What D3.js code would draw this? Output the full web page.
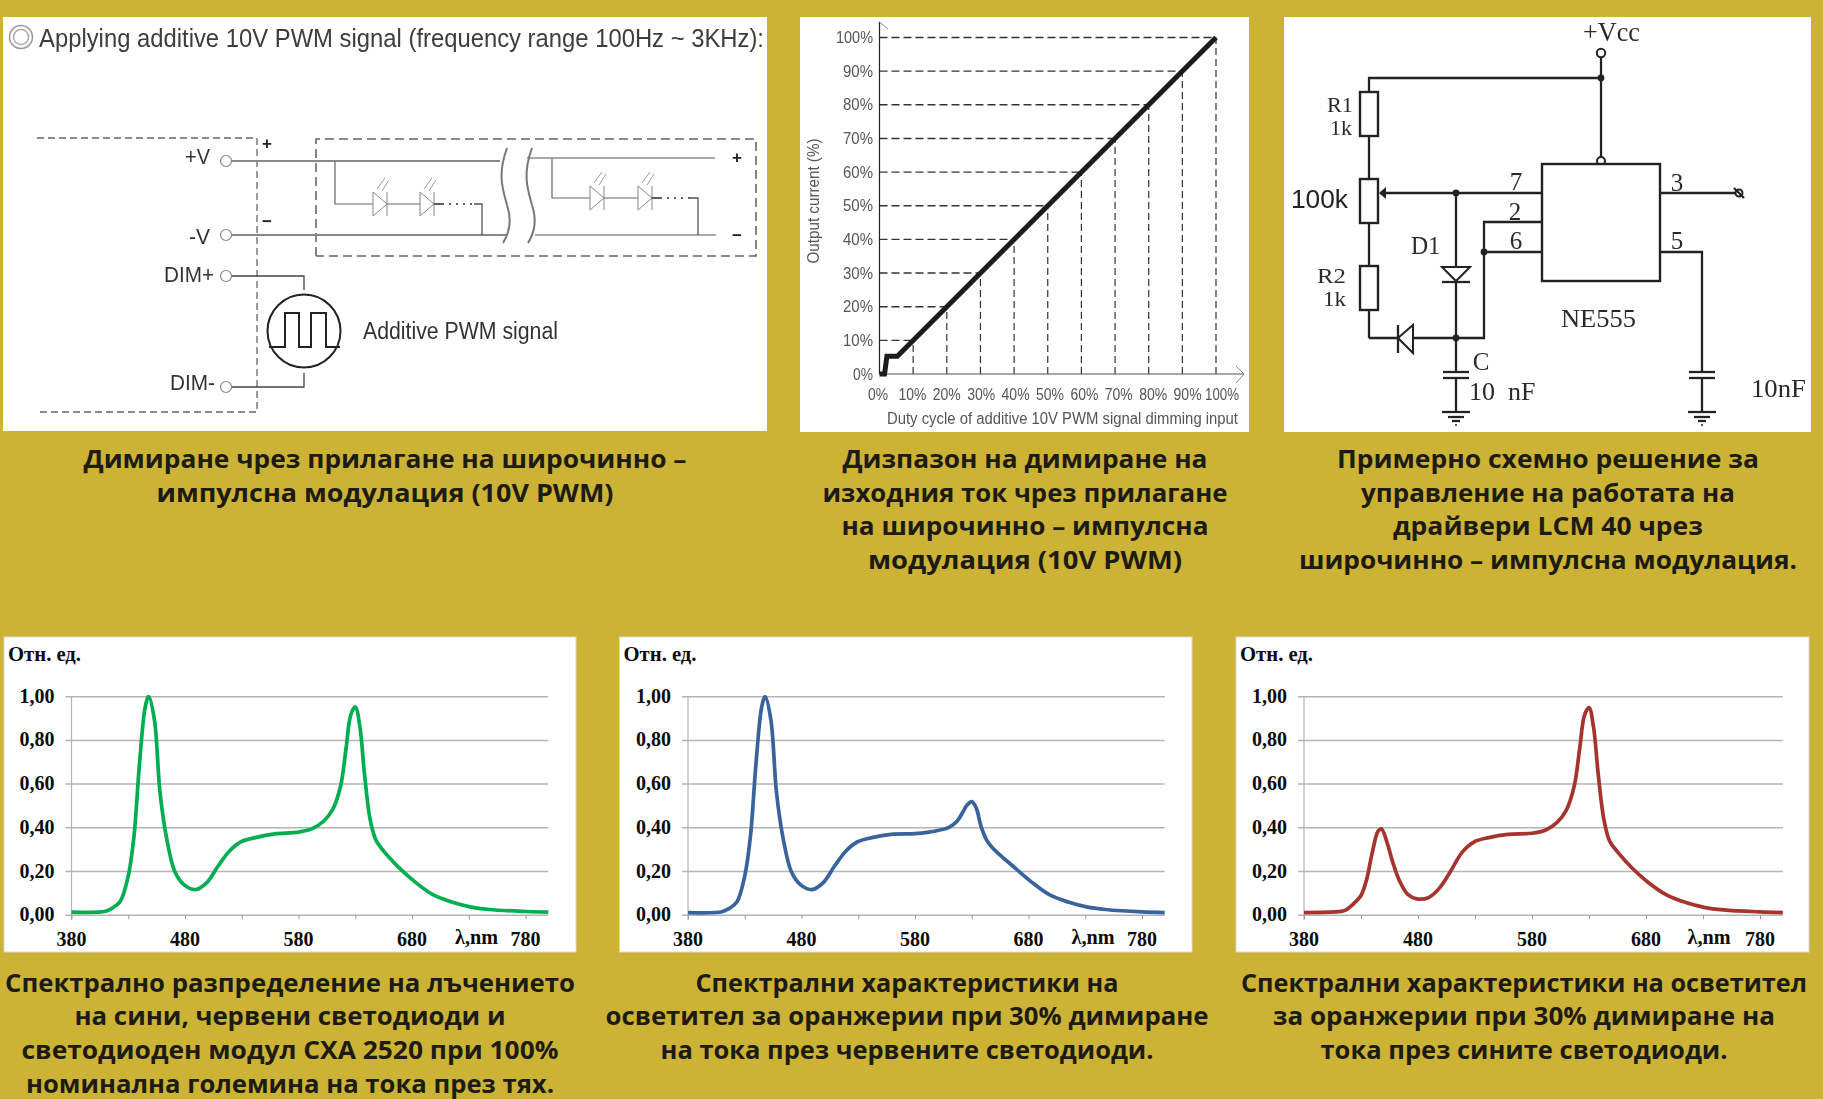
<!DOCTYPE html>
<html>
<head>
<meta charset="utf-8">
<script src="https://cdn.jsdelivr.net/npm/d3@7"></script>
<style>
  html, body { margin: 0; padding: 0; background: #ccb235; }
  svg { display: block; }
</style>
</head>
<body>
<svg id="chart"></svg>
<script>
// spectra, nm against relative units
const wavelengths = [380,410,416,423,430,435,440,445,448,453,458,464,471,479,489,499,509,519,529,542,559,580,592,602,610,617,622,626,630,634,638,643,648,655,668,682,698,715,731,748,780,800];
const spectrumFull = [.014,.018,.033,.064,.18,.36,.70,.955,1,.895,.56,.346,.20,.14,.117,.148,.224,.293,.335,.355,.372,.38,.396,.43,.483,.59,.77,.917,.953,.864,.65,.44,.346,.293,.22,.155,.095,.06,.038,.026,.017,.014];
const spectrumRedDim = [.012,.016,.03,.06,.18,.36,.70,.955,1,.895,.56,.346,.20,.14,.117,.148,.224,.293,.335,.355,.37,.373,.38,.39,.402,.43,.47,.505,.52,.49,.41,.345,.31,.275,.217,.155,.095,.06,.038,.026,.015,.012];
const spectrumBlueDim = [.012,.016,.022,.05,.09,.165,.29,.385,.395,.33,.24,.155,.095,.075,.08,.125,.205,.29,.335,.355,.37,.375,.39,.425,.48,.59,.77,.915,.95,.86,.65,.44,.34,.29,.215,.15,.093,.058,.036,.024,.015,.012];
const spectrumTicksMajor = [380,480,580,680,780];
const spectrumTicksMinor = [380,430,480,530,580,630,680,730,780];
const spectrumTicksY = [0,.2,.4,.6,.8,1];

// dimming curve, duty cycle % against output current %
const dutyValues = [0,1.5,2.2,5.3,100];
const currentValues = [0,0,5.3,5.3,100];
const dimmingTicks = [0,10,20,30,40,50,60,70,80,90,100];

const captionDimming = ["Димиране чрез прилагане на широчинно –", "импулсна модулация (10V PWM)"];
const captionRange = ["Дизпазон на димиране на", "изходния ток чрез прилагане", "на широчинно – импулсна", "модулация (10V PWM)"];
const captionCircuit = ["Примерно схемно решение за", "управление на работата на", "драйвери LCM 40 чрез", "широчинно – импулсна модулация."];
const captionFull = ["Спектрално разпределение на лъчението", "на сини, червени светодиоди и", "светодиоден модул CXA 2520 при 100%", "номинална големина на тока през тях."];
const captionRed = ["Спектрални характеристики на", "осветител за оранжерии при 30% димиране", "на тока през червените светодиоди."];
const captionBlue = ["Спектрални характеристики на осветител", "за оранжерии при 30% димиране на", "тока през сините светодиоди."];

const W = 1823, H = 1099;
const SANS = "'Liberation Sans', Arial, sans-serif";
const SERIF = "'Liberation Serif', 'Times New Roman', serif";
const CAPTION = "'Open Sans', 'Noto Sans', sans-serif";

const svg = d3.select("#chart").attr("width", W).attr("height", H);
svg.append("rect").attr("width", W).attr("height", H).attr("fill", "#ccb235");

const defs = svg.append("defs");
defs.append("filter").attr("id", "soft")
  .append("feGaussianBlur").attr("stdDeviation", 0.6);

const pathGen = d3.line();

const wire = (g, pts, color, w, dash) => {
  return g.append("path")
    .attr("d", pathGen(pts))
    .attr("fill", "none")
    .attr("stroke", color)
    .attr("stroke-width", w)
    .attr("stroke-dasharray", dash || null);
};

const label = (g, txt, x, y, opt) => {
  const o = opt || {};
  const t = g.append("text")
    .attr("x", x).attr("y", y)
    .attr("dominant-baseline", "central")
    .attr("text-anchor", o.anchor || "start")
    .attr("font-family", o.family || SANS)
    .attr("font-size", o.size || 16)
    .attr("font-weight", o.weight || "normal")
    .attr("fill", o.fill || "#333")
    .text(txt);
  if (o.len) t.attr("textLength", o.len).attr("lengthAdjust", "spacingAndGlyphs");
  return t;
};

const panel = (x0, y0, x1, y1) => svg.append("rect")
  .attr("x", x0).attr("y", y0).attr("width", x1 - x0).attr("height", y1 - y0)
  .attr("fill", "#fff");

// captions, widths fitted per line to the reference
const caption = (lines, cx, top, widths) => {
  lines.forEach((line, i) => {
    label(svg, line, cx, top + i * 33.7, { family: CAPTION, size: 25.5, weight: 700, anchor: "middle", fill: "#1c1c14", len: widths[i] });
  });
};
caption(captionDimming, 385, 458, [603, 457]);
caption(captionRange, 1025, 458, [365, 405, 367, 314]);
caption(captionCircuit, 1548, 458, [422, 374, 310, 498]);
caption(captionFull, 290, 981.5, [570, 431, 537, 528]);
caption(captionRed, 907, 981.5, [423, 603, 493]);
caption(captionBlue, 1524, 981.5, [566, 502, 407]);

// ---- PWM wiring diagram ----
panel(3, 17, 767, 431);
const a = svg.append("g").attr("filter", "url(#soft)");

a.append("circle").attr("cx", 21).attr("cy", 37).attr("r", 11.5).attr("fill", "none").attr("stroke", "#999").attr("stroke-width", 1.5);
a.append("circle").attr("cx", 21).attr("cy", 37).attr("r", 7.5).attr("fill", "none").attr("stroke", "#aaa").attr("stroke-width", 1.5);
label(a, "Applying additive 10V PWM signal (frequency range 100Hz ~ 3KHz):", 39, 38, { size: 26, len: 725, fill: "#3c3c3c" });

wire(a, [[37,138],[257,138],[257,412],[37,412]], "#666", 1.3, "7,4");
wire(a, [[316,256],[316,139],[756,139],[756,256],[316,256]], "#666", 1.6, "9,5");
label(a, "+", 267, 143, { size: 17, anchor: "middle", weight: "bold", fill: "#222" });
label(a, "−", 267, 221, { size: 17, anchor: "middle", weight: "bold", fill: "#222" });
label(a, "+", 737, 157, { size: 17, anchor: "middle", weight: "bold", fill: "#222" });
label(a, "−", 737, 235, { size: 17, anchor: "middle", weight: "bold", fill: "#222" });

label(a, "+V", 210, 156, { size: 22, anchor: "end", len: 25 });
label(a, "-V", 210, 236, { size: 22, anchor: "end", len: 21 });
label(a, "DIM+", 214, 274, { size: 22, anchor: "end", len: 50 });
label(a, "DIM-", 215, 382, { size: 22, anchor: "end", len: 45 });
label(a, "Additive PWM signal", 363, 331, { size: 23, len: 195 });

[161, 235, 276, 387].forEach(cy => {
  a.append("circle").attr("cx", 226).attr("cy", cy).attr("r", 5.5).attr("fill", "#fff").attr("stroke", "#888").attr("stroke-width", 1.2);
});
wire(a, [[232,161],[500,161]], "#888", 2);
wire(a, [[232,235],[507,235]], "#888", 2);
wire(a, [[527,158],[715,158]], "#aaa", 2);
wire(a, [[535,235],[716,235]], "#aaa", 2);

// cable break marks
[0, 25].forEach(dx => {
  a.append("path")
    .attr("d", `M${507 + dx},148 C${497 + dx},175 ${503 + dx},190 ${507 + dx},205 C${512 + dx},220 ${510 + dx},232 ${503 + dx},243`)
    .attr("fill", "none").attr("stroke", "#777").attr("stroke-width", 2);
});

const ledString = (startX, busY, rowY, x1, x2, endX) => {
  wire(a, [[startX,busY],[startX,rowY],[x1,rowY]], "#666", 1.2);
  [x1, x2].forEach(x => {
    a.append("path").attr("d", pathGen([[x,rowY - 12],[x + 14,rowY],[x,rowY + 12]]) + "Z")
      .attr("fill", "#fff").attr("stroke", "#888").attr("stroke-width", 1);
    wire(a, [[x + 14,rowY - 12],[x + 14,rowY + 12]], "#888", 1);
    wire(a, [[x + 4,rowY - 15],[x + 12,rowY - 26]], "#999", 1);
    wire(a, [[x + 9,rowY - 13],[x + 16,rowY - 24]], "#999", 1);
  });
  wire(a, [[x1 + 14,rowY],[x2,rowY]], "#666", 1.2);
  wire(a, [[x2 + 14,rowY],[x2 + 22,rowY]], "#333", 1.6);
  wire(a, [[x2 + 22,rowY],[endX - 8,rowY]], "#333", 1.6, "2,5");
  wire(a, [[endX - 8,rowY],[endX,rowY],[endX,235]], "#555", 1.3);
};
ledString(335, 161, 204, 373, 420, 482);
ledString(552, 158, 198, 590, 638, 698);

wire(a, [[232,276],[304,276],[304,290]], "#444", 1.3);
wire(a, [[232,387],[304,387],[304,373]], "#444", 1.3);
a.append("circle").attr("cx", 304).attr("cy", 331).attr("r", 36.5).attr("fill", "none").attr("stroke", "#222").attr("stroke-width", 2);
wire(a, [[269,347],[285,347],[285,313],[299,313],[299,347],[311,347],[311,313],[326,313],[326,347],[340,347]], "#222", 2);

// ---- dimming range chart ----
panel(800, 17, 1249, 432);
const b = svg.append("g").attr("filter", "url(#soft)");

const xDim = d3.scaleLinear().domain([0, 100]).range([879.5, 1216]);
const yDim = d3.scaleLinear().domain([0, 100]).range([374, 37.5]);
const xDimLabel = d3.scaleLinear().domain([0, 100]).range([878, 1222]);

dimmingTicks.filter(d => d > 0).forEach(d => {
  wire(b, [[xDim(0), yDim(d)],[xDim(d), yDim(d)]], "#333", 1.4, "8,4");
  wire(b, [[xDim(d), yDim(0)],[xDim(d), yDim(d)]], "#333", 1.2, "7,4");
});
wire(b, [[xDim(0), yDim(0)],[xDim(0), 22]], "#222", 1.2);
wire(b, [[xDim(0), yDim(0)],[1244, yDim(0)]], "#555", 1.2);
wire(b, [[xDim(0), 22],[888, 29]], "#888", 1);
wire(b, [[1236, 366],[1244, 374],[1236, 383]], "#888", 1);

b.append("path")
  .datum(dutyValues.map((d, i) => [d, currentValues[i]]))
  .attr("fill", "none").attr("stroke", "#1a1a1a").attr("stroke-width", 5)
  .attr("d", d3.line().x(d => xDim(d[0])).y(d => yDim(d[1])));

dimmingTicks.forEach(d => {
  label(b, d + "%", 873, yDim(d) - 0.5, { size: 16.5, anchor: "end", len: d === 100 ? 37 : d === 0 ? 20 : 30, fill: "#555" });
  label(b, d + "%", xDimLabel(d), 394, { size: 16, anchor: "middle", len: d === 100 ? 34 : d === 0 ? 20 : 28, fill: "#555" });
});
label(b, "Duty cycle of additive 10V PWM signal dimming input", 887, 418, { size: 16, len: 351, fill: "#555" });
label(b, "Output current (%)", 0, 0, { size: 16, anchor: "middle", len: 125, fill: "#555" })
  .attr("transform", "translate(813,201) rotate(-90)");

// ---- NE555 circuit ----
panel(1284, 17, 1811, 432);
const c = svg.append("g").attr("filter", "url(#soft)");
const INK = "#222";
const cw = (pts, w) => wire(c, pts, INK, w || 2.3);
const dot = (x, y) => c.append("circle").attr("cx", x).attr("cy", y).attr("r", 3.4).attr("fill", INK);
const box = (x0, y0, x1, y1) => c.append("rect").attr("x", x0).attr("y", y0).attr("width", x1 - x0).attr("height", y1 - y0)
  .attr("fill", "#fff").attr("stroke", INK).attr("stroke-width", 2.4);

cw([[1369,338],[1369,78],[1601,78]]);
cw([[1601,57],[1601,157]]);
dot(1601, 78);
c.append("circle").attr("cx", 1601).attr("cy", 53).attr("r", 4.2).attr("fill", "#fff").attr("stroke", INK).attr("stroke-width", 2);
c.append("circle").attr("cx", 1601).attr("cy", 161).attr("r", 4).attr("fill", "#fff").attr("stroke", INK).attr("stroke-width", 2);

box(1360, 92, 1378, 136);
box(1360, 179, 1378, 223);
box(1360, 266, 1378, 310);
box(1542, 164, 1660, 281);

cw([[1380,193],[1542,193]]);
c.append("path").attr("d", pathGen([[1379,193],[1386,187],[1386,199]]) + "Z").attr("fill", INK);
dot(1456, 193);
cw([[1456,193],[1456,372]]);
cw([[1369,338],[1484,338],[1484,222],[1542,222]]);
cw([[1484,252],[1542,252]]);
dot(1484, 252);
dot(1456, 338);

c.append("path").attr("d", pathGen([[1442,267],[1470,267],[1456,281]]) + "Z").attr("fill", "#fff").attr("stroke", INK).attr("stroke-width", 2);
cw([[1442,282],[1470,282]]);
c.append("path").attr("d", pathGen([[1398,338],[1413,325],[1413,353]]) + "Z").attr("fill", "#fff").attr("stroke", INK).attr("stroke-width", 2);
cw([[1398,325],[1398,353]]);

cw([[1660,193],[1739,193]]);
c.append("circle").attr("cx", 1739).attr("cy", 193).attr("r", 3.5).attr("fill", "#fff").attr("stroke", INK).attr("stroke-width", 2);
cw([[1734,188],[1744,198]]);
cw([[1660,252],[1702,252],[1702,372]]);

const capGround = (x) => {
  cw([[x - 13,372],[x + 13,372]]);
  cw([[x - 13,378],[x + 13,378]]);
  cw([[x,378],[x,412]]);
  cw([[x - 14,412],[x + 14,412]]);
  cw([[x - 8,417],[x + 8,417]]);
  cw([[x - 4,421],[x + 4,421]]);
  dot(x, 425).attr("r", 1);
};
capGround(1456);
capGround(1702);

const sf = { family: SERIF, size: 25, fill: "#2a2a2a" };

label(c, "+Vcc", 1583, 32, { ...sf, size: 27, len: 57 });
label(c, "R1", 1353, 104, { ...sf, size: 22, anchor: "end", len: 26 });
label(c, "1k", 1352, 127, { ...sf, size: 22, anchor: "end", len: 22 });
label(c, "R2", 1346, 275, { ...sf, size: 22, anchor: "end", len: 29 });
label(c, "1k", 1346, 298, { ...sf, size: 22, anchor: "end", len: 23 });
label(c, "100k", 1348, 199, { size: 25, anchor: "end", len: 57, fill: "#222" });
label(c, "D1", 1411, 245, { ...sf, len: 29 });
label(c, "7", 1516, 181, { ...sf, anchor: "middle" });
label(c, "2", 1515, 211, { ...sf, anchor: "middle" });
label(c, "6", 1516, 240, { ...sf, anchor: "middle" });
label(c, "3", 1677, 182, { ...sf, anchor: "middle" });
label(c, "5", 1677, 240, { ...sf, anchor: "middle" });
label(c, "NE555", 1561, 318, { ...sf, len: 75 });
label(c, "C", 1481, 361, { ...sf, anchor: "middle" });
label(c, "10  nF", 1469, 391, { ...sf, size: 26 }).style("white-space", "pre");
label(c, "10nF", 1751, 388, { ...sf, size: 26, len: 55 });

// ---- spectrum charts ----
const spectrum = (boxL, boxR, x380, x780, values, color) => {
  panel(boxL, 637, boxR, 952).attr("stroke", "#d8d8d8").attr("stroke-width", 1);
  const g = svg.append("g");
  const x = d3.scaleLinear().domain([380, 780]).range([x380, x780]);
  const y = d3.scaleLinear().domain([0, 1]).range([915.2, 696.7]);
  const xEnd = x(800);

  spectrumTicksY.forEach(t => {
    wire(g, [[x380 - 6, y(t)],[xEnd, y(t)]], "#b4b4b4", 1.5);
  });
  wire(g, [[x380, y(1)],[x380, y(0) + 5]], "#b4b4b4", 1.2);

  const axisX = d3.axisBottom(x)
    .tickValues(spectrumTicksMinor)
    .tickSize(4)
    .tickFormat("");
  const gx = g.append("g").attr("transform", `translate(0,${y(0)})`).call(axisX);
  gx.select(".domain").remove();
  gx.selectAll("line").attr("stroke", "#999");

  const lab = { family: SERIF, size: 20, weight: "bold", fill: "#0c0c0c" };
  spectrumTicksY.forEach(t => {
    label(g, d3.format(".2f")(t).replace(".", ","), x380 - 17, y(t) - 1, { ...lab, anchor: "end" });
  });
  spectrumTicksMajor.forEach(t => {
    label(g, t, x(t), 938.5, { ...lab, anchor: "middle" });
  });
  label(g, "λ,nm", x380 + 405, 937, { ...lab, anchor: "middle", len: 43 });
  label(g, "Отн. ед.", boxL + 4, 654, { ...lab, size: 20, len: 73 });

  const line = d3.line()
    .x((d, i) => x(wavelengths[i]))
    .y(d => y(d))
    .curve(d3.curveCatmullRom.alpha(0.5));
  g.append("path")
    .datum(values)
    .attr("fill", "none")
    .attr("stroke", color)
    .attr("stroke-width", 3.7)
    .attr("stroke-linejoin", "round")
    .attr("d", line);
};

spectrum(4, 576, 71.5, 525.6, spectrumFull, "#00ad50");
spectrum(619.5, 1192, 688, 1142, spectrumRedDim, "#38639c");
spectrum(1236, 1809, 1304, 1760, spectrumBlueDim, "#a5342f");
</script>
</body>
</html>
